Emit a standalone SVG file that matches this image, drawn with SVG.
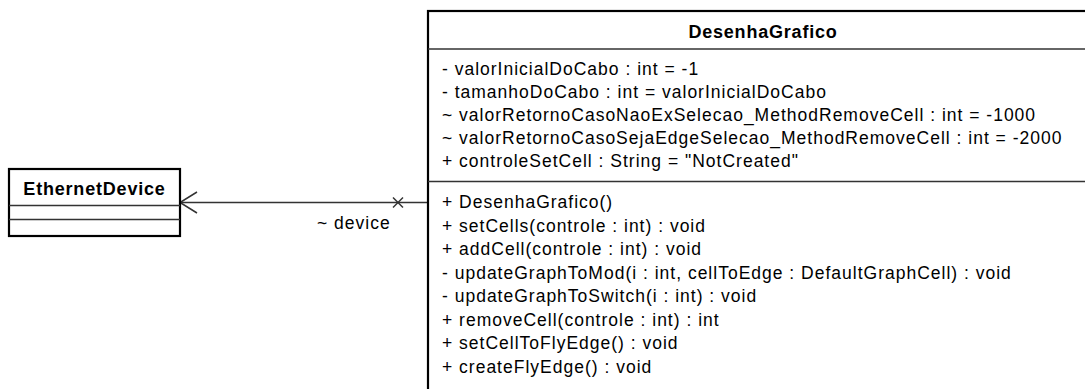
<svg xmlns="http://www.w3.org/2000/svg" width="1085" height="389" viewBox="0 0 1085 389">
<style>
.bg{fill:#ffffff}
.box{fill:#ffffff;stroke:#000000;stroke-width:2.2}
.sep{stroke:#333333;stroke-width:1.5;fill:none}
.title{font-family:"Liberation Sans",Arial,sans-serif;font-weight:bold;font-size:18px;letter-spacing:0.8px;fill:#000000}
.txt{font-family:"Liberation Sans",Arial,sans-serif;font-size:17.5px;letter-spacing:1px;fill:#000000}
.conn{stroke:#333333;stroke-width:1.5;fill:none}
</style>
<rect class="bg" x="0" y="0" width="1085" height="389"/>
<g id="connectors">
  <line class="conn" x1="180" y1="202.5" x2="427" y2="202.5"/>
  <polyline class="conn" points="197,192 180,202.5 197,213"/>
  <line class="conn" x1="393" y1="197.5" x2="403" y2="207.5"/>
  <line class="conn" x1="393" y1="207.5" x2="403" y2="197.5"/>
  <text class="txt" x="317" y="229">~ device</text>
</g>
<g id="EthernetDevice">
  <rect class="box" x="9" y="169" width="171" height="67"/>
  <line class="sep" x1="9" y1="205.5" x2="180" y2="205.5"/>
  <line class="sep" x1="9" y1="219.5" x2="180" y2="219.5"/>
  <text class="title" x="94.5" y="195" text-anchor="middle">EthernetDevice</text>
</g>
<g id="DesenhaGrafico">
  <rect class="box" x="428" y="11" width="680" height="400"/>
  <line class="sep" x1="428" y1="49" x2="1108" y2="49"/>
  <line class="sep" x1="428" y1="181.5" x2="1108" y2="181.5"/>
  <text class="title" x="763" y="38" text-anchor="middle">DesenhaGrafico</text>
  <text class="txt" x="442" y="75">- valorInicialDoCabo : int = -1</text>
  <text class="txt" x="442" y="98">- tamanhoDoCabo : int = valorInicialDoCabo</text>
  <text class="txt" x="442" y="121">~ valorRetornoCasoNaoExSelecao_MethodRemoveCell : int = -1000</text>
  <text class="txt" x="442" y="144">~ valorRetornoCasoSejaEdgeSelecao_MethodRemoveCell : int = -2000</text>
  <text class="txt" x="442" y="167">+ controleSetCell : String = "NotCreated"</text>
  <text class="txt" x="442" y="208">+ DesenhaGrafico()</text>
  <text class="txt" x="442" y="231.5">+ setCells(controle : int) : void</text>
  <text class="txt" x="442" y="255">+ addCell(controle : int) : void</text>
  <text class="txt" x="442" y="278.5">- updateGraphToMod(i : int, cellToEdge : DefaultGraphCell) : void</text>
  <text class="txt" x="442" y="302">- updateGraphToSwitch(i : int) : void</text>
  <text class="txt" x="442" y="325.5">+ removeCell(controle : int) : int</text>
  <text class="txt" x="442" y="349">+ setCellToFlyEdge() : void</text>
  <text class="txt" x="442" y="372.5">+ createFlyEdge() : void</text>
</g>
</svg>
